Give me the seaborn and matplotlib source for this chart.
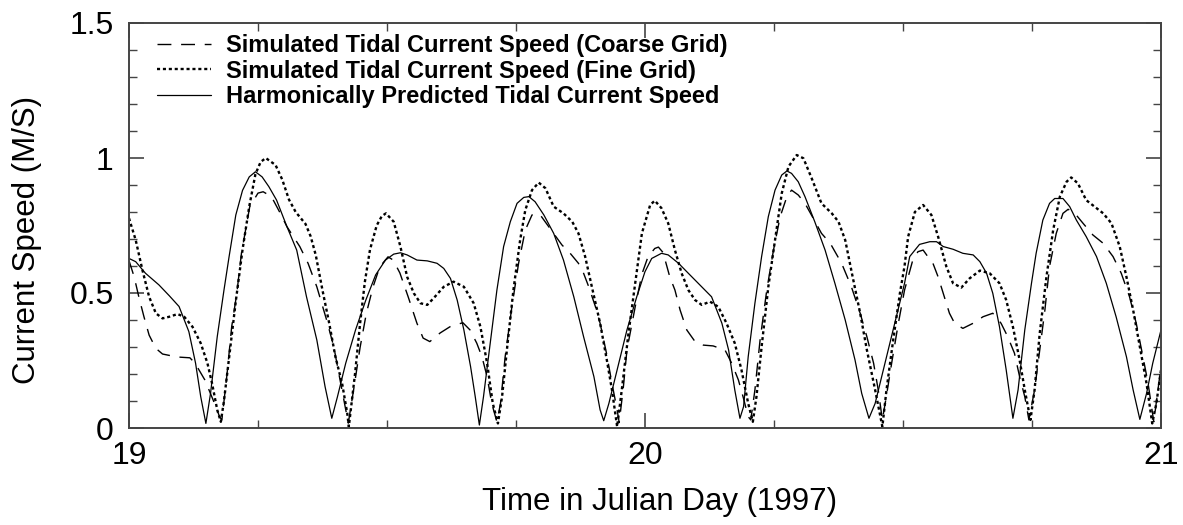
import matplotlib
matplotlib.use("Agg")
import matplotlib.pyplot as plt
from matplotlib.ticker import MultipleLocator, FixedLocator, FuncFormatter
import seaborn as sns

# ---------------- data ----------------
harm_day = [19.000, 19.013, 19.032, 19.058, 19.078, 19.097, 19.116, 19.129, 19.139, 19.149,
            19.158, 19.171, 19.184, 19.194, 19.207, 19.220, 19.233, 19.245, 19.258, 19.271,
            19.286, 19.306, 19.325, 19.344, 19.364, 19.380, 19.393, 19.404, 19.420, 19.439,
            19.459, 19.478, 19.497, 19.513, 19.526, 19.539, 19.558, 19.578, 19.597, 19.610,
            19.623, 19.636, 19.649, 19.662, 19.671, 19.679, 19.687, 19.700, 19.713, 19.726,
            19.739, 19.752, 19.765, 19.775, 19.787, 19.804, 19.823, 19.842, 19.862, 19.881,
            19.901, 19.913, 19.920, 19.930, 19.946, 19.965, 19.984, 20.000, 20.013, 20.032,
            20.045, 20.065, 20.084, 20.110, 20.129, 20.149, 20.162, 20.174, 20.184, 20.191,
            20.200, 20.213, 20.226, 20.239, 20.252, 20.265, 20.275, 20.284, 20.297, 20.310,
            20.329, 20.349, 20.368, 20.388, 20.407, 20.420, 20.434, 20.446, 20.465, 20.484,
            20.503, 20.513, 20.532, 20.552, 20.565, 20.578, 20.597, 20.616, 20.636, 20.649,
            20.662, 20.674, 20.687, 20.700, 20.713, 20.723, 20.736, 20.749, 20.758, 20.771,
            20.784, 20.794, 20.810, 20.823, 20.836, 20.855, 20.875, 20.894, 20.913, 20.933,
            20.946, 20.959, 20.972, 20.984, 21.000]
harm_speed = [0.628, 0.616, 0.573, 0.530, 0.490, 0.450, 0.357, 0.240, 0.116, 0.017,
              0.128, 0.338, 0.510, 0.635, 0.789, 0.880, 0.930, 0.949, 0.930, 0.894,
              0.844, 0.746, 0.659, 0.486, 0.326, 0.153, 0.036, 0.116, 0.240, 0.363,
              0.474, 0.567, 0.622, 0.644, 0.649, 0.641, 0.622, 0.619, 0.610, 0.591,
              0.554, 0.474, 0.363, 0.227, 0.116, 0.011, 0.116, 0.314, 0.511, 0.672,
              0.764, 0.832, 0.854, 0.857, 0.838, 0.789, 0.721, 0.622, 0.486, 0.338,
              0.190, 0.067, 0.027, 0.091, 0.215, 0.363, 0.486, 0.579, 0.628, 0.647,
              0.641, 0.610, 0.573, 0.523, 0.486, 0.388, 0.289, 0.141, 0.036, 0.079,
              0.264, 0.462, 0.635, 0.783, 0.881, 0.937, 0.952, 0.943, 0.912, 0.857,
              0.764, 0.659, 0.536, 0.400, 0.252, 0.128, 0.036, 0.091, 0.240, 0.388,
              0.536, 0.635, 0.680, 0.690, 0.690, 0.672, 0.662, 0.647, 0.641, 0.616,
              0.573, 0.499, 0.375, 0.215, 0.036, 0.141, 0.363, 0.536, 0.647, 0.770,
              0.832, 0.850, 0.850, 0.820, 0.770, 0.709, 0.635, 0.536, 0.412, 0.264,
              0.141, 0.032, 0.128, 0.240, 0.363]

fine_day = [19.000, 19.013, 19.026, 19.039, 19.052, 19.065, 19.078, 19.094, 19.107, 19.123,
            19.139, 19.152, 19.161, 19.171, 19.178, 19.184, 19.194, 19.207, 19.220, 19.233,
            19.245, 19.255, 19.265, 19.284, 19.297, 19.310, 19.323, 19.342, 19.352, 19.362,
            19.375, 19.388, 19.400, 19.413, 19.423, 19.426, 19.438, 19.448, 19.457, 19.467,
            19.480, 19.490, 19.498, 19.513, 19.526, 19.539, 19.552, 19.565, 19.578, 19.590,
            19.610, 19.629, 19.649, 19.668, 19.681, 19.694, 19.705, 19.715, 19.723, 19.733,
            19.745, 19.758, 19.768, 19.781, 19.794, 19.807, 19.823, 19.842, 19.859, 19.871,
            19.884, 19.897, 19.913, 19.926, 19.936, 19.946, 19.955, 19.968, 19.981, 19.994,
            20.010, 20.019, 20.032, 20.045, 20.058, 20.071, 20.084, 20.097, 20.110, 20.126,
            20.142, 20.158, 20.174, 20.187, 20.200, 20.209, 20.216, 20.226, 20.239, 20.252,
            20.265, 20.278, 20.294, 20.307, 20.323, 20.342, 20.362, 20.375, 20.388, 20.401,
            20.417, 20.430, 20.446, 20.460, 20.468, 20.481, 20.494, 20.503, 20.510, 20.523,
            20.539, 20.555, 20.568, 20.584, 20.597, 20.613, 20.629, 20.649, 20.668, 20.687,
            20.700, 20.713, 20.726, 20.736, 20.747, 20.755, 20.765, 20.778, 20.791, 20.804,
            20.817, 20.826, 20.839, 20.855, 20.871, 20.888, 20.904, 20.920, 20.933, 20.946,
            20.959, 20.972, 20.983, 20.991, 21.000]
fine_speed = [0.777, 0.696, 0.585, 0.486, 0.425, 0.406, 0.412, 0.422, 0.412, 0.375,
              0.314, 0.240, 0.165, 0.067, 0.023, 0.100, 0.260, 0.470, 0.660, 0.820,
              0.940, 0.985, 1.000, 0.974, 0.920, 0.846, 0.800, 0.756, 0.710, 0.640,
              0.510, 0.388, 0.264, 0.165, 0.054, 0.005, 0.200, 0.390, 0.540, 0.660,
              0.750, 0.785, 0.795, 0.764, 0.672, 0.560, 0.499, 0.462, 0.456, 0.480,
              0.523, 0.542, 0.523, 0.462, 0.375, 0.240, 0.091, 0.017, 0.116, 0.301,
              0.511, 0.696, 0.807, 0.881, 0.909, 0.888, 0.820, 0.795, 0.764, 0.721,
              0.635, 0.523, 0.388, 0.252, 0.141, 0.005, 0.141, 0.351, 0.536, 0.721,
              0.826, 0.842, 0.814, 0.758, 0.659, 0.573, 0.511, 0.474, 0.456, 0.468,
              0.449, 0.388, 0.314, 0.215, 0.091, 0.023, 0.116, 0.301, 0.523, 0.696,
              0.869, 0.968, 1.011, 0.999, 0.925, 0.832, 0.795, 0.764, 0.696, 0.573,
              0.425, 0.289, 0.141, 0.005, 0.141, 0.326, 0.499, 0.600, 0.709, 0.800,
              0.826, 0.789, 0.709, 0.598, 0.536, 0.520, 0.554, 0.583, 0.573, 0.536,
              0.474, 0.375, 0.252, 0.141, 0.030, 0.141, 0.351, 0.560, 0.733, 0.857,
              0.912, 0.928, 0.906, 0.844, 0.820, 0.795, 0.758, 0.672, 0.560, 0.437,
              0.301, 0.165, 0.017, 0.091, 0.215]

coarse_day = [19.000, 19.010, 19.019, 19.029, 19.039, 19.052, 19.065, 19.093, 19.118, 19.128,
              19.147, 19.163, 19.176, 19.180, 19.190, 19.199, 19.209, 19.218, 19.234, 19.250,
              19.260, 19.276, 19.293, 19.306, 19.331, 19.347, 19.364, 19.383, 19.397, 19.409,
              19.419, 19.425, 19.436, 19.448, 19.460, 19.473, 19.486, 19.502, 19.512, 19.525,
              19.541, 19.558, 19.570, 19.583, 19.603, 19.622, 19.647, 19.661, 19.674, 19.684,
              19.694, 19.703, 19.713, 19.720, 19.729, 19.742, 19.755, 19.768, 19.781, 19.790,
              19.797, 19.839, 19.855, 19.871, 19.881, 19.891, 19.904, 19.913, 19.925, 19.936,
              19.946, 19.950, 19.958, 19.965, 19.981, 19.994, 20.006, 20.019, 20.026, 20.035,
              20.048, 20.058, 20.068, 20.081, 20.097, 20.113, 20.132, 20.155, 20.168, 20.181,
              20.190, 20.200, 20.205, 20.213, 20.223, 20.236, 20.249, 20.262, 20.275, 20.284,
              20.297, 20.310, 20.326, 20.342, 20.359, 20.381, 20.400, 20.417, 20.430, 20.443,
              20.452, 20.460, 20.468, 20.478, 20.491, 20.503, 20.519, 20.529, 20.539, 20.548,
              20.558, 20.568, 20.578, 20.590, 20.600, 20.616, 20.636, 20.655, 20.674, 20.690,
              20.703, 20.716, 20.726, 20.736, 20.744, 20.755, 20.765, 20.775, 20.784, 20.797,
              20.810, 20.820, 20.833, 20.849, 20.868, 20.888, 20.907, 20.923, 20.939, 20.952,
              20.965, 20.975, 20.986, 20.994, 21.000]
coarse_speed = [0.620, 0.560, 0.486, 0.412, 0.344, 0.295, 0.274, 0.263, 0.260, 0.240,
                0.178, 0.104, 0.040, 0.030, 0.200, 0.375, 0.500, 0.648, 0.820, 0.870,
                0.875, 0.857, 0.796, 0.746, 0.672, 0.610, 0.523, 0.400, 0.300, 0.178,
                0.079, 0.018, 0.150, 0.300, 0.425, 0.523, 0.597, 0.634, 0.622, 0.574,
                0.486, 0.388, 0.333, 0.320, 0.352, 0.375, 0.390, 0.363, 0.314, 0.264,
                0.190, 0.091, 0.023, 0.091, 0.264, 0.449, 0.610, 0.733, 0.789, 0.795,
                0.789, 0.678, 0.647, 0.610, 0.573, 0.523, 0.449, 0.388, 0.280, 0.165,
                0.067, 0.020, 0.150, 0.289, 0.449, 0.570, 0.635, 0.665, 0.670, 0.650,
                0.560, 0.511, 0.437, 0.363, 0.320, 0.307, 0.304, 0.289, 0.240, 0.178,
                0.116, 0.042, 0.030, 0.141, 0.326, 0.511, 0.659, 0.783, 0.857, 0.881,
                0.863, 0.832, 0.777, 0.721, 0.684, 0.610, 0.523, 0.425, 0.338, 0.240,
                0.141, 0.030, 0.120, 0.240, 0.388, 0.511, 0.622, 0.653, 0.659, 0.635,
                0.610, 0.560, 0.499, 0.425, 0.388, 0.369, 0.388, 0.412, 0.425, 0.388,
                0.338, 0.277, 0.190, 0.116, 0.030, 0.141, 0.289, 0.437, 0.598, 0.721,
                0.795, 0.810, 0.795, 0.758, 0.715, 0.684, 0.635, 0.573, 0.486, 0.388,
                0.264, 0.165, 0.023, 0.141, 0.227]

labels = ["Simulated Tidal Current Speed (Coarse Grid)",
          "Simulated Tidal Current Speed (Fine Grid)",
          "Harmonically Predicted Tidal Current Speed"]
x_ticks = [19, 20, 21]
y_ticks = [0, 0.5, 1, 1.5]
x_label = "Time in Julian Day (1997)"
y_label = "Current Speed (M/S)"

# ---------------- plot ----------------
sns.set_theme(style="white")
plt.rcParams["font.family"] = ["Liberation Sans", "DejaVu Sans"]
plt.rcParams["text.color"] = "black"
plt.rcParams["axes.labelcolor"] = "black"
plt.rcParams["xtick.color"] = "black"
plt.rcParams["ytick.color"] = "black"

fig = plt.figure(figsize=(11.83, 5.25), dpi=100)
ax = fig.add_axes([129 / 1183, 1 - 428 / 525, 1032 / 1183, 405 / 525])

sns.lineplot(x=coarse_day, y=coarse_speed, ax=ax, color="black", lw=1.0,
             linestyle=(0, (10, 7)), label=labels[0], sort=False)
sns.lineplot(x=fine_day, y=fine_speed, ax=ax, color="black", lw=1.7,
             linestyle=(0, (1.3, 1.2)), label=labels[1], sort=False)
sns.lineplot(x=harm_day, y=harm_speed, ax=ax, color="black", lw=0.9,
             linestyle="-", label=labels[2], sort=False)

ax.set_xlim(19, 21)
ax.set_ylim(0, 1.5)
ax.xaxis.set_major_locator(FixedLocator(x_ticks))
ax.xaxis.set_minor_locator(MultipleLocator(0.25))
ax.yaxis.set_major_locator(FixedLocator(y_ticks))
ax.yaxis.set_minor_locator(MultipleLocator(0.1))
ax.xaxis.set_major_formatter(FuncFormatter(lambda v, p: f"{v:g}"))
ax.yaxis.set_major_formatter(FuncFormatter(lambda v, p: f"{v:g}"))

spine_col = "#444444"
for s in ax.spines.values():
    s.set_color(spine_col)
    s.set_linewidth(1.4)
    s.set_visible(True)
ax.tick_params(which="both", direction="in", top=True, right=True, bottom=True, left=True,
               colors=spine_col, labelcolor="black")
ax.tick_params(which="major", length=11, width=1.2, labelsize=23)
ax.tick_params(which="minor", length=6, width=1.0)
ax.tick_params(axis="x", which="major", pad=9)
ax.tick_params(axis="y", which="major", pad=11)

ax.set_xlabel(x_label, fontsize=22.5, color="black")
ax.set_ylabel(y_label, fontsize=22.5, color="black")
ax.xaxis.set_label_coords(0.5145, -0.145)
ax.yaxis.set_label_coords(-0.084, 0.464)
ax.grid(False)

leg = ax.legend(loc="upper left", bbox_to_anchor=(0.027, 0.972), frameon=False,
                borderpad=0, borderaxespad=0, handlelength=2.3, handletextpad=0.62,
                labelspacing=0.1, prop={"weight": "bold", "size": 17})
for h in leg.get_lines():
    h.set_color("black")
for t in leg.get_texts():
    t.set_color("black")

fig.savefig("out.png", dpi=100)
